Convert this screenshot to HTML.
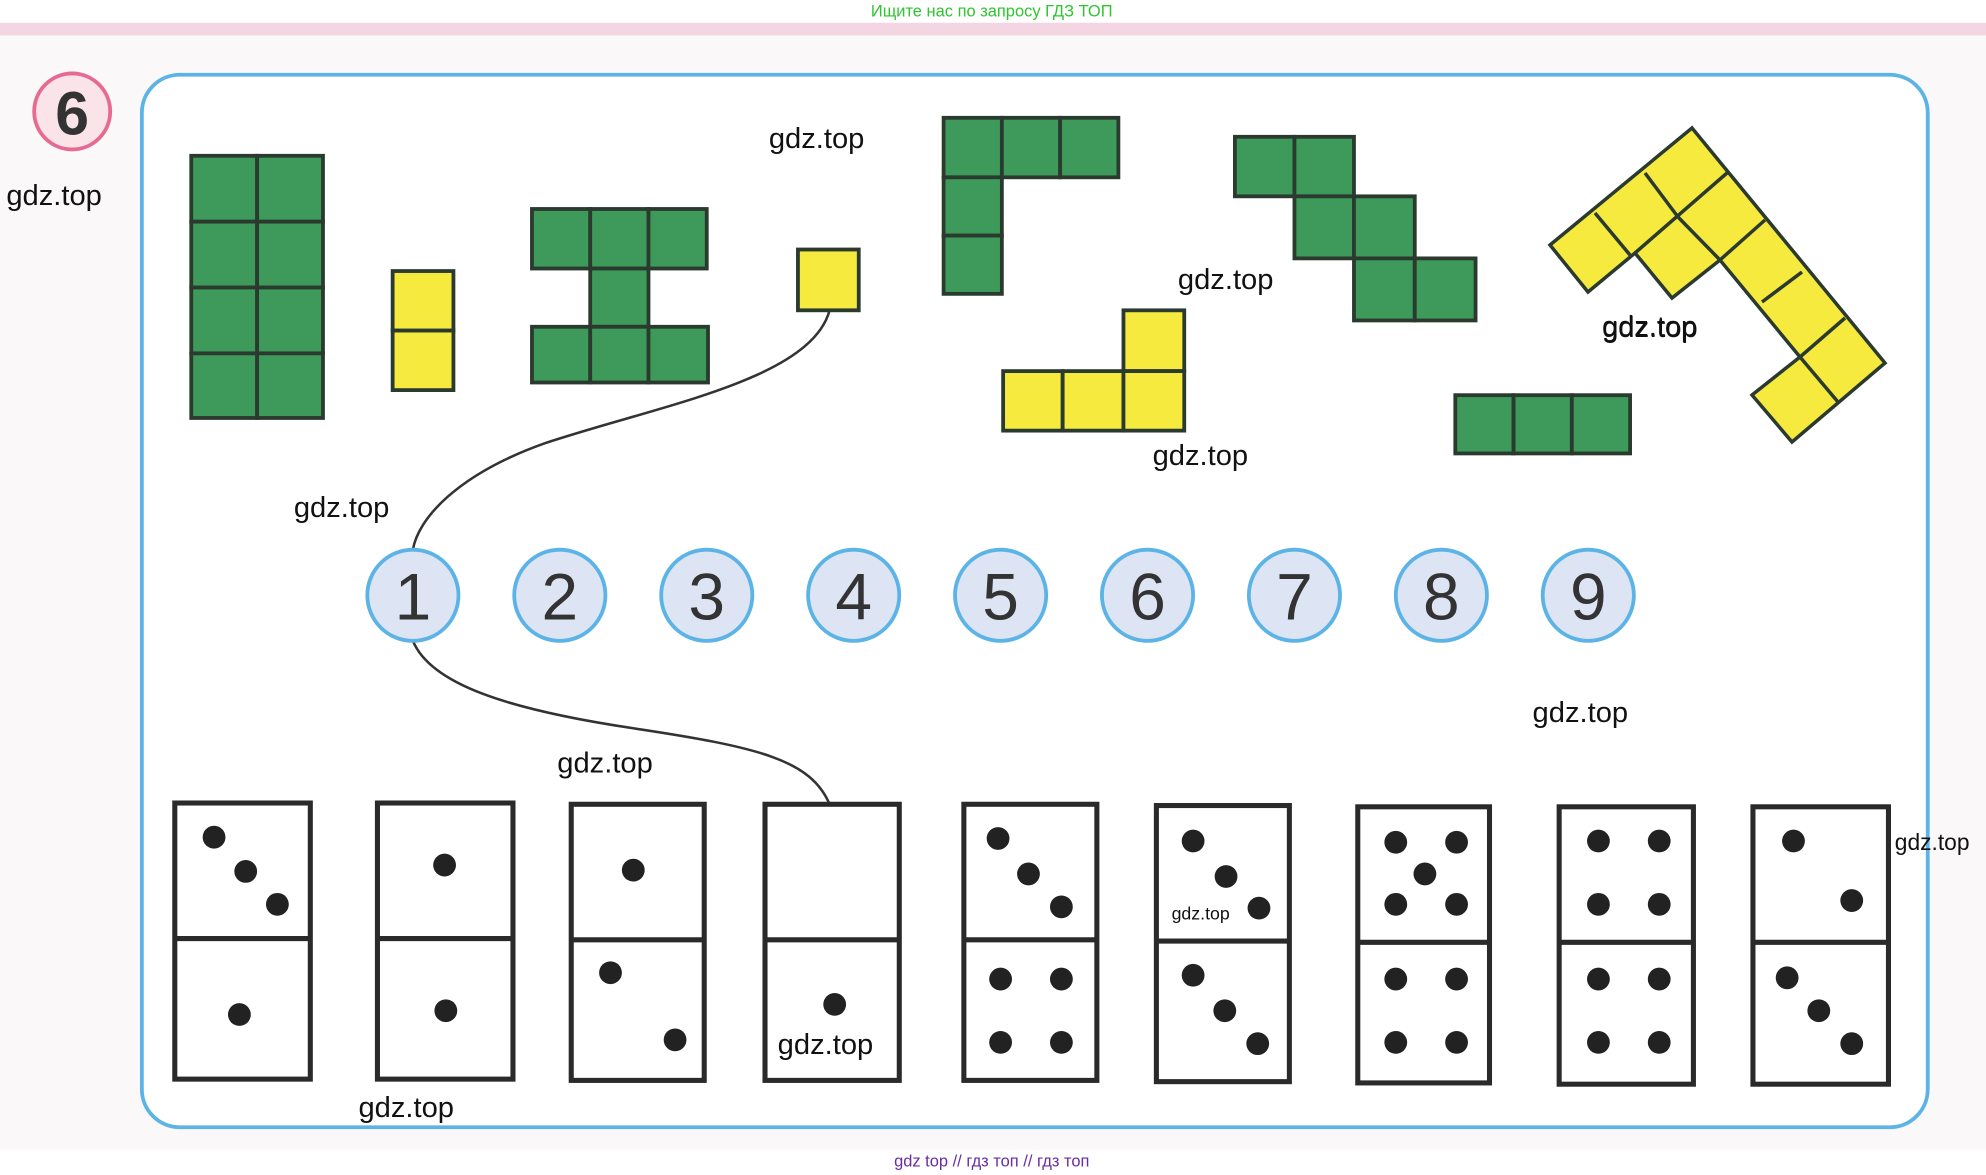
<!DOCTYPE html>
<html><head><meta charset="utf-8"><style>
html,body{margin:0;padding:0;background:#fff;}
svg{display:block;}
text{font-family:"Liberation Sans","DejaVu Sans",sans-serif;}
</style></head><body>
<svg width="1986" height="1175" viewBox="0 0 1986 1175" xmlns="http://www.w3.org/2000/svg">
<g transform="scale(1.26658)">
<rect x="0" y="0" width="1568" height="928" fill="#fff"/>
<rect x="0" y="18" width="1568" height="890" fill="#fbf8f9"/>
<rect x="0" y="18" width="1568" height="10" fill="#f4d6e3"/>
<text x="783" y="13" font-size="13" fill="#2fc52f" text-anchor="middle">Ищите нас по запросу ГДЗ ТОП</text>
<text x="783" y="921" font-size="13" fill="#6a2ca0" text-anchor="middle">gdz top  //  гдз топ  //  гдз топ</text>

<circle cx="57" cy="88" r="30" fill="#fbe3ea" stroke="#e66a92" stroke-width="3"/>
<text x="57" y="106" font-size="48" font-weight="bold" fill="#333" text-anchor="middle">6</text>

<rect x="112" y="59" width="1410" height="831" rx="30" fill="#fff" stroke="#5cb4e6" stroke-width="3"/>

<g stroke="#2b3a2e" stroke-width="3">
<g fill="#3d9a5a">
<rect x="151" y="123" width="52" height="52"/><rect x="203" y="123" width="52" height="52"/>
<rect x="151" y="175" width="52" height="52"/><rect x="203" y="175" width="52" height="52"/>
<rect x="151" y="227" width="52" height="52"/><rect x="203" y="227" width="52" height="52"/>
<rect x="151" y="279" width="52" height="51"/><rect x="203" y="279" width="52" height="51"/>
<rect x="420" y="165" width="46" height="47"/><rect x="466" y="165" width="46" height="47"/><rect x="512" y="165" width="46" height="47"/>
<rect x="466" y="212" width="46" height="46"/>
<rect x="420" y="258" width="46" height="44"/><rect x="466" y="258" width="46" height="44"/><rect x="512" y="258" width="47" height="44"/>
<rect x="745" y="93" width="46" height="47"/><rect x="791" y="93" width="46" height="47"/><rect x="837" y="93" width="46" height="47"/>
<rect x="745" y="140" width="46" height="46"/><rect x="745" y="186" width="46" height="46"/>
<rect x="975" y="108" width="47" height="47"/><rect x="1022" y="108" width="47" height="47"/>
<rect x="1022" y="155" width="47" height="49"/><rect x="1069" y="155" width="48" height="49"/>
<rect x="1069" y="204" width="48" height="49"/><rect x="1117" y="204" width="48" height="49"/>
<rect x="1149" y="312" width="46" height="46"/><rect x="1195" y="312" width="46" height="46"/><rect x="1241" y="312" width="46" height="46"/>
</g>
<g fill="#f6ea3e">
<rect x="310" y="214" width="48" height="47"/><rect x="310" y="261" width="48" height="47"/>
<rect x="630" y="197" width="48" height="48"/>
<rect x="887" y="245" width="48" height="48"/>
<rect x="792" y="293" width="47" height="47"/><rect x="839" y="293" width="48" height="47"/><rect x="887" y="293" width="48" height="47"/>
</g>
</g>

<path d="M655 245 C640 300 520 320 430 350 C360 375 330 410 326 434" fill="none" stroke="#333" stroke-width="2"/>
<path d="M326 506 C340 540 400 560 500 575 C600 590 640 600 655 635" fill="none" stroke="#333" stroke-width="2"/>

<g fill="#dde4f3" stroke="#5cb4e6" stroke-width="3">
<circle cx="326" cy="470" r="36"/><circle cx="442" cy="470" r="36"/><circle cx="558" cy="470" r="36"/>
<circle cx="674" cy="470" r="36"/><circle cx="790" cy="470" r="36"/><circle cx="906" cy="470" r="36"/>
<circle cx="1022" cy="470" r="36"/><circle cx="1138" cy="470" r="36"/><circle cx="1254" cy="470" r="36"/>
</g>
<g font-size="52" fill="#333" text-anchor="middle">
<text x="326" y="489">1</text><text x="442" y="489">2</text><text x="558" y="489">3</text>
<text x="674" y="489">4</text><text x="790" y="489">5</text><text x="906" y="489">6</text>
<text x="1022" y="489">7</text><text x="1138" y="489">8</text><text x="1254" y="489">9</text>
</g>

<g fill="#fff" stroke="#2a2a2a" stroke-width="4">
<rect x="138" y="634" width="107" height="218"/><line x1="138" y1="741" x2="245" y2="741"/>
<rect x="298" y="634" width="107" height="218"/><line x1="298" y1="741" x2="405" y2="741"/>
<rect x="451" y="635" width="105" height="218"/><line x1="451" y1="742" x2="556" y2="742"/>
<rect x="604" y="635" width="106" height="218"/><line x1="604" y1="742" x2="710" y2="742"/>
<rect x="761" y="635" width="105" height="218"/><line x1="761" y1="742" x2="866" y2="742"/>
<rect x="913" y="636" width="105" height="218"/><line x1="913" y1="743" x2="1018" y2="743"/>
<rect x="1072" y="637" width="104" height="218"/><line x1="1072" y1="744" x2="1176" y2="744"/>
<rect x="1231" y="637" width="106" height="219"/><line x1="1231" y1="744" x2="1337" y2="744"/>
<rect x="1384" y="637" width="107" height="219"/><line x1="1384" y1="744" x2="1491" y2="744"/>
</g>
<g fill="#222">
<circle cx="169" cy="661" r="9"/><circle cx="194" cy="688" r="9"/><circle cx="219" cy="714" r="9"/><circle cx="189" cy="801" r="9"/>
<circle cx="351" cy="683" r="9"/><circle cx="352" cy="798" r="9"/>
<circle cx="500" cy="687" r="9"/><circle cx="482" cy="768" r="9"/><circle cx="533" cy="821" r="9"/>
<circle cx="659" cy="793" r="9"/>
<circle cx="788" cy="662" r="9"/><circle cx="812" cy="690" r="9"/><circle cx="838" cy="716" r="9"/>
<circle cx="790" cy="773" r="9"/><circle cx="838" cy="773" r="9"/><circle cx="790" cy="823" r="9"/><circle cx="838" cy="823" r="9"/>
<circle cx="942" cy="664" r="9"/><circle cx="968" cy="692" r="9"/><circle cx="994" cy="717" r="9"/>
<circle cx="942" cy="770" r="9"/><circle cx="967" cy="798" r="9"/><circle cx="993" cy="824" r="9"/>
<circle cx="1102" cy="665" r="9"/><circle cx="1150" cy="665" r="9"/><circle cx="1125" cy="690" r="9"/><circle cx="1102" cy="714" r="9"/><circle cx="1150" cy="714" r="9"/>
<circle cx="1102" cy="773" r="9"/><circle cx="1150" cy="773" r="9"/><circle cx="1102" cy="823" r="9"/><circle cx="1150" cy="823" r="9"/>
<circle cx="1262" cy="664" r="9"/><circle cx="1310" cy="664" r="9"/><circle cx="1262" cy="714" r="9"/><circle cx="1310" cy="714" r="9"/>
<circle cx="1262" cy="773" r="9"/><circle cx="1310" cy="773" r="9"/><circle cx="1262" cy="823" r="9"/><circle cx="1310" cy="823" r="9"/>
<circle cx="1416" cy="664" r="9"/><circle cx="1462" cy="711" r="9"/>
<circle cx="1411" cy="772" r="9"/><circle cx="1436" cy="798" r="9"/><circle cx="1462" cy="824" r="9"/>
</g>

<g font-size="23" fill="#111">
<text x="5" y="162">gdz.top</text>
<text x="607" y="117">gdz.top</text>
<text x="930" y="228">gdz.top</text>
<text x="1265" y="266">gdz.top</text>
<text x="910" y="367">gdz.top</text>
<text x="232" y="408">gdz.top</text>
<text x="440" y="610">gdz.top</text>
<text x="1210" y="570">gdz.top</text>
<text x="614" y="832">gdz.top</text>
<text x="283" y="882">gdz.top</text>
<text x="1496" y="671" font-size="18">gdz.top</text>
<text x="925" y="726" font-size="14">gdz.top</text>
</g>
</g>

<g stroke="#2b3a2e" stroke-width="3.5" fill="none">
<polygon points="1550,245 1692,128 1885,363 1792,442 1752,395 1800,357 1720,260 1672,298 1635,253 1588,292" fill="#f6ea3e"/>
<line x1="1595" y1="213" x2="1630" y2="255"/>
<line x1="1645" y1="173" x2="1678" y2="217"/>
<line x1="1678" y1="217" x2="1720" y2="260"/>
<line x1="1635" y1="253" x2="1727" y2="173"/>
<line x1="1720" y1="260" x2="1765" y2="220"/>
<line x1="1762" y1="302" x2="1802" y2="272"/>
<line x1="1800" y1="357" x2="1845" y2="318"/>
<line x1="1800" y1="357" x2="1838" y2="402"/>
</g>
<text x="1602" y="336" font-size="29" fill="#111" font-family="Liberation Sans, sans-serif">gdz.top</text>
</svg>
</body></html>
